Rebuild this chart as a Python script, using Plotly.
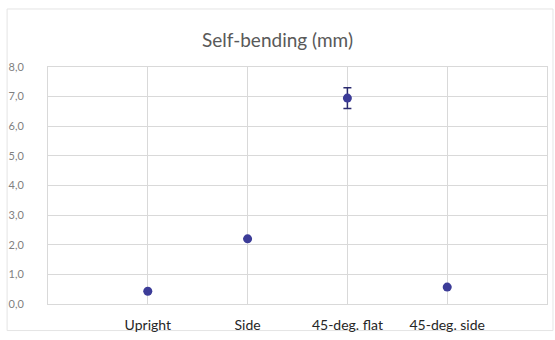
import plotly.graph_objects as go

# Self-bending measurements per print orientation
categories = ["Upright", "Side", "45-deg. flat", "45-deg. side"]
positions = [1, 2, 3, 4]
bending_mm = [0.43, 2.2, 6.95, 0.57]
bending_err = [0.0, 0.0, 0.35, 0.0]
y_ticks = [0, 1, 2, 3, 4, 5, 6, 7, 8]

grid = "#d9d9d9"
font_family = "Lato, 'Open Sans', sans-serif"

fig = go.Figure()
fig.add_trace(go.Scatter(
    x=positions,
    y=bending_mm,
    mode="markers",
    marker=dict(size=9, color="#3c3c98"),
    error_y=dict(type="data", array=bending_err, visible=True,
                 color="#2a2a6e", thickness=1.5, width=4),
    showlegend=False,
    hoverinfo="skip",
))

# Outer chart-area frame (paper units relative to the 500x241 plot area)
fig.add_shape(type="rect", xref="paper", yref="paper",
              x0=-41 / 500, x1=506 / 500, y0=-27 / 241, y1=300 / 241,
              line=dict(color="#e4e4e4", width=1), layer="below")

fig.update_layout(
    width=555, height=340,
    margin=dict(l=48, r=7, t=67, b=32),
    paper_bgcolor="white",
    plot_bgcolor="white",
    separators=",.",
    font=dict(family=font_family),
    title=dict(text="Self-bending (mm)", x=0.5, xanchor="center",
               y=1 - 40 / 340, yanchor="middle",
               font=dict(size=19, color="#595959", family=font_family)),
)

fig.update_xaxes(
    range=[0, 5],
    tickvals=positions,
    ticktext=categories,
    showgrid=True, gridcolor=grid, gridwidth=1,
    showline=True, linecolor=grid, linewidth=1, mirror=True,
    zeroline=False,
    ticks="", ticklabelstandoff=8,
    tickfont=dict(size=14, color="#262626", family=font_family),
)
fig.update_yaxes(
    range=[0, 8],
    tickvals=y_ticks,
    tickformat=".1f",
    showgrid=True, gridcolor=grid, gridwidth=1,
    showline=True, linecolor=grid, linewidth=1, mirror=True,
    zeroline=False,
    ticks="", ticklabelstandoff=21,
    tickfont=dict(size=11, color="#7f7f7f", family=font_family),
)

fig.write_html("out.html")
